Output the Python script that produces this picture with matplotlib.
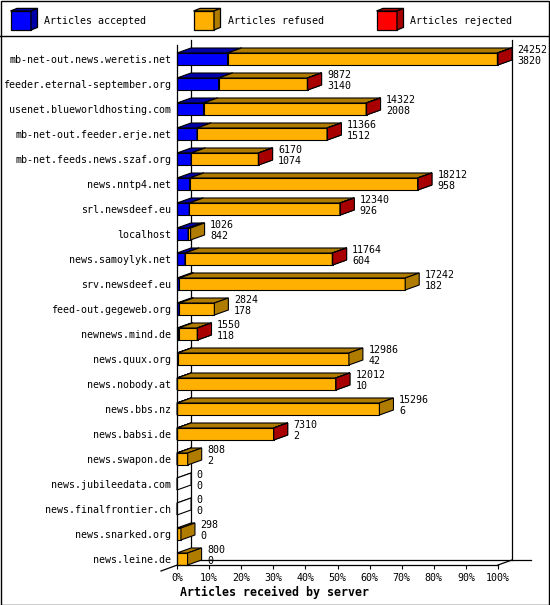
import matplotlib
matplotlib.use("Agg")
import matplotlib.pyplot as plt
from matplotlib.patches import Polygon, Rectangle
from matplotlib.transforms import ScaledTranslation
from matplotlib.lines import Line2D

# ---------------- data ----------------
servers = [
    "mb-net-out.news.weretis.net", "feeder.eternal-september.org",
    "usenet.blueworldhosting.com", "mb-net-out.feeder.erje.net",
    "mb-net.feeds.news.szaf.org", "news.nntp4.net", "srl.newsdeef.eu",
    "localhost", "news.samoylyk.net", "srv.newsdeef.eu",
    "feed-out.gegeweb.org", "newnews.mind.de", "news.quux.org",
    "news.nobody.at", "news.bbs.nz", "news.babsi.de", "news.swapon.de",
    "news.jubileedata.com", "news.finalfrontier.ch", "news.snarked.org",
    "news.leine.de",
]
offered = [24252, 9872, 14322, 11366, 6170, 18212, 12340, 1026, 11764, 17242,
           2824, 1550, 12986, 12012, 15296, 7310, 808, 0, 0, 298, 800]
accepted = [3820, 3140, 2008, 1512, 1074, 958, 926, 842, 604, 182,
            178, 118, 42, 10, 6, 2, 2, 0, 0, 0, 0]
# rejected counts are tiny (only the red end face is visible); estimated
rejected = [40, 20, 30, 25, 20, 30, 25, 0, 25, 0,
            0, 15, 0, 20, 0, 15, 0, 0, 0, 0, 0]
refused = [o - a - r for o, a, r in zip(offered, accepted, rejected)]

series_names = ["Articles accepted", "Articles refused", "Articles rejected"]
front_cols = ["#0000FF", "#FFB000", "#FF0000"]
dark_cols = ["#0000A8", "#B07C00", "#A80000"]
xticks = list(range(0, 101, 10))
xtick_labels = [f"{t}%" for t in xticks]
xtitle = "Articles received by server"

# ---------------- layout ----------------
W, H = 550, 605
DPI = 100
fig = plt.figure(figsize=(W / DPI, H / DPI), dpi=DPI)
MONO = "DejaVu Sans Mono"
FS = 7.2

ax_l, ax_r, ax_t, ax_b = 177, 498, 45, 565
ax = fig.add_axes([ax_l / W, 1 - ax_b / H, (ax_r - ax_l) / W, (ax_b - ax_t) / H])
row_px = 25.0
first_center = 59
n = len(servers)
y_bottom = (n - 1) + (ax_b - (first_center + (n - 1) * row_px)) / row_px
y_top = y_bottom - (ax_b - ax_t) / row_px
ax.set_xlim(0, 100)
ax.set_ylim(y_bottom, y_top)

px_per_x = (ax_r - ax_l) / 100.0
DX = 14 / px_per_x       # depth in data x units
DY = 5 / row_px          # depth in row units
HH = 6 / row_px          # half height of bar front

for s in ["top", "right"]:
    ax.spines[s].set_visible(False)
for s in ["left", "bottom"]:
    ax.spines[s].set_linewidth(0.9)
    ax.spines[s].set_color("black")
ax.set_yticks(range(n))
ax.set_yticklabels(servers, fontfamily=MONO, fontsize=FS)
ax.tick_params(axis="y", length=0, pad=4)
ax.set_xticks(xticks)
ax.set_xticklabels(xtick_labels, fontfamily=MONO, fontsize=FS)
ax.tick_params(axis="x", length=3.2, width=0.8, direction="out", pad=2.5)

# back wall / floor lines
lk = dict(color="black", lw=0.9, clip_on=False, zorder=1)
ax.plot([DX, DX], [y_bottom - DY, y_top - DY], **lk)
ax.plot([100 + DX, 100 + DX], [y_bottom - DY, y_top - DY], **lk)
ax.plot([DX, 100 + DX + 19 / px_per_x], [y_bottom - DY, y_bottom - DY], **lk)
ax.plot([DX, -16 / px_per_x], [y_bottom - DY, y_bottom + 6 / row_px], **lk)
ax.plot([100, 100 + DX], [y_bottom, y_bottom - DY], **lk)

maxv = max(offered)
ek = dict(edgecolor="black", lw=0.8, clip_on=False, zorder=2, joinstyle="miter")


def prism(x0, x1, yc, fc, dc):
    yt, yb = yc - HH, yc + HH
    ax.add_patch(Polygon([(x0, yt), (x1, yt), (x1, yb), (x0, yb)], closed=True,
                         facecolor=fc, **ek))
    ax.add_patch(Polygon([(x0, yt), (x0 + DX, yt - DY), (x1 + DX, yt - DY), (x1, yt)],
                         closed=True, facecolor=dc, **ek))
    ax.add_patch(Polygon([(x1, yt), (x1 + DX, yt - DY), (x1 + DX, yb - DY), (x1, yb)],
                         closed=True, facecolor=dc, **ek))


for i in range(n):
    vals = [accepted[i], refused[i], rejected[i]]
    x = 0.0
    if offered[i] == 0:
        prism(0, 0, i, "white", "white")
    for k, v in enumerate(vals):
        if v <= 0:
            continue
        w = v / maxv * 100
        prism(x, x + w, i, front_cols[k], dark_cols[k])
        x += w
    xe = offered[i] / maxv * 100
    t1 = ax.transData + ScaledTranslation(19.5 / DPI, 9 / DPI, fig.dpi_scale_trans)
    t2 = ax.transData + ScaledTranslation(19.5 / DPI, -2 / DPI, fig.dpi_scale_trans)
    ax.text(xe, i, str(offered[i]), transform=t1, ha="left", va="center",
            fontfamily=MONO, fontsize=FS, clip_on=False, zorder=3)
    ax.text(xe, i, str(accepted[i]), transform=t2, ha="left", va="center",
            fontfamily=MONO, fontsize=FS, clip_on=False, zorder=3)

fig.text(180 / W, 1 - 592 / H, xtitle, fontfamily=MONO, fontweight="bold",
         fontsize=8.4, ha="left", va="center")

# ---------------- legend ----------------
lax = fig.add_axes([0, 1 - 36 / H, 1, 36 / H])
lax.set_xlim(0, W)
lax.set_ylim(36, 0)
lax.axis("off")
lek = dict(edgecolor="black", lw=0.9, joinstyle="miter")
for k, name in enumerate(series_names):
    x0 = 10.5 + 183 * k
    x1, y0, y1 = x0 + 20.5, 11, 30
    d, e = 6.5, 2.6
    lax.add_patch(Polygon([(x0, y0), (x1, y0), (x1, y1), (x0, y1)], facecolor=front_cols[k], **lek))
    lax.add_patch(Polygon([(x0, y0), (x0 + d, y0 - e), (x1 + d, y0 - e), (x1, y0)], facecolor=dark_cols[k], **lek))
    lax.add_patch(Polygon([(x1, y0), (x1 + d, y0 - e), (x1 + d, y1 - e), (x1, y1)], facecolor=dark_cols[k], **lek))
    lax.text(x0 + 34, 21, name, fontfamily=MONO, fontsize=FS, ha="left", va="center")

# outer frame and separator
fig.add_artist(Rectangle((0.5 / W, 0.5 / H), (W - 1.5) / W, (H - 1.5) / H,
                         transform=fig.transFigure, fill=False, edgecolor="black", lw=1.0))
fig.add_artist(Line2D([0, 1], [1 - 36 / H, 1 - 36 / H], transform=fig.transFigure,
                      color="black", lw=1.0))

fig.savefig("out.png", dpi=DPI, facecolor="white")
